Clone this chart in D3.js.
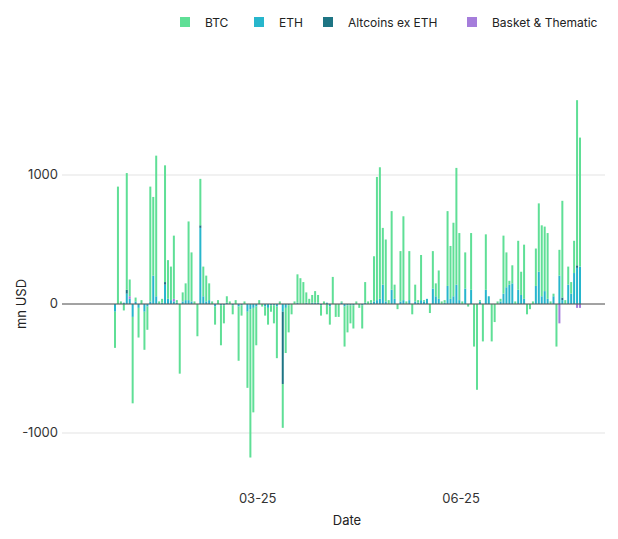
<!DOCTYPE html>
<html><head><meta charset="utf-8">
<script src="https://cdn.jsdelivr.net/npm/d3@7"></script>
<style>body{margin:0;background:#fff;font-family:Inter,"Noto Sans",sans-serif}</style>
</head><body><svg id="chart" width="618" height="539"></svg>
<script>
let seriesNames = ['BTC', 'ETH', 'Altcoins ex ETH', 'Basket & Thematic'];
let stackOrder = ['ETH', 'Altcoins ex ETH', 'Basket & Thematic', 'BTC'];
let colors = ['#5fdf96', '#27b6cc', '#1e7584', '#a57ddb'];

let btc = [-280,910,20,-50,905,130,-670,30,-230,30,
  -295,-180,890,610,1090,20,30,905,300,260,
  490,20,-540,70,130,610,380,20,-250,360,
  230,200,130,20,-140,30,-310,-140,50,20,
  -70,30,-420,-80,20,-590,-1150,-810,-300,30,
  -20,-70,-130,-50,-140,-400,20,-340,-350,-210,
  -80,20,220,200,170,80,40,60,90,60,
  -80,20,-80,-140,210,-100,-100,10,-310,-210,
  -140,-180,20,-30,-180,160,20,20,350,955,
  1020,440,480,30,610,110,-40,390,650,20,
  380,-80,130,20,350,10,0,-70,290,100,
  220,20,20,580,410,570,905,520,20,280,
  -20,440,-330,-665,10,-290,430,0,-290,-140,
  20,20,450,270,30,140,20,380,180,420,
  -80,-40,20,290,530,550,500,510,20,20,
  -330,200,750,30,140,90,250,1280,1000];
let eth = [-60,0,0,10,80,40,-100,20,-30,0,
  -60,-20,20,220,60,0,10,150,40,30,
  20,10,0,20,30,30,20,0,0,590,
  60,20,30,0,-20,0,-10,-10,10,0,
  -10,0,-20,-10,0,-60,-40,-30,-20,0,
  0,-20,-30,-10,-10,-20,0,-60,-30,-10,
  0,0,10,0,0,10,0,10,10,10,
  -10,0,10,-20,0,0,0,10,-20,-10,
  -10,-10,0,0,-10,10,0,10,20,30,
  40,150,20,0,110,40,0,20,30,0,
  30,0,20,10,30,20,40,0,120,60,
  40,0,10,140,40,60,150,30,0,120,
  0,110,0,0,20,0,110,60,0,0,
  0,20,80,130,150,160,0,110,70,40,
  0,0,0,140,250,60,100,40,0,60,
  0,220,30,0,150,80,240,280,290];
let alts = btc.map(() => 0);
alts[57] = -560; alts[4] = 30; alts[17] = 20; alts[29] = 20; alts[152] = 20; alts[157] = 20;
let basket = btc.map(() => 0);
basket[151] = -150; basket[5] = 20; basket[20] = 20; basket[157] = -30; basket[158] = -30;

let tickLabels = [{ label: '03-25', index: 48.5 }, { label: '06-25', index: 117.6 }];

let rows = btc.map((v, i) => ({ i: i, BTC: v, ETH: eth[i], 'Altcoins ex ETH': alts[i], 'Basket & Thematic': basket[i] }));
let stacked = d3.stack().keys(stackOrder).offset(d3.stackOffsetDiverging)(rows);

let svg = d3.select('#chart');
let x = d3.scaleLinear().domain([0, btc.length - 1]).range([115, 580]);
let y = d3.scaleLinear().domain([-1000, 1000]).range([433, 175]);

svg.append('g').selectAll('line').data([-1000, 0, 1000]).enter().append('line')
  .attr('x1', 62).attr('x2', 605).attr('y1', d => y(d)).attr('y2', d => y(d))
  .attr('stroke', '#e3e3e3');

svg.append('g').selectAll('text').data([-1000, 0, 1000]).enter().append('text')
  .attr('x', 58).attr('y', d => y(d) + 4).attr('text-anchor', 'end')
  .attr('font-size', 13).attr('fill', '#333').text(d => d);

let colorOf = d3.scaleOrdinal(seriesNames, colors);
stacked.forEach(s => {
  svg.append('g').attr('fill', colorOf(s.key)).selectAll('rect').data(s).enter().append('rect')
    .attr('x', d => x(d.data.i) - 1)
    .attr('width', 2)
    .attr('y', d => y(Math.max(d[0], d[1])))
    .attr('height', d => Math.abs(y(d[0]) - y(d[1])));
});

svg.append('line').attr('x1', 62).attr('x2', 605).attr('y1', y(0)).attr('y2', y(0))
  .attr('stroke', '#555').attr('stroke-width', 1);

svg.append('g').selectAll('text').data(tickLabels).enter().append('text')
  .attr('x', d => x(d.index)).attr('y', 503).attr('text-anchor', 'middle')
  .attr('font-size', 13).attr('fill', '#333').text(d => d.label);

svg.append('text').attr('x', 347).attr('y', 525).attr('text-anchor', 'middle')
  .attr('font-size', 13).attr('fill', '#222').text('Date');
svg.append('text').attr('transform', 'translate(26,304) rotate(-90)').attr('text-anchor', 'middle')
  .attr('font-size', 13).attr('fill', '#222').text('mn USD');

let legendX = [180, 254, 323, 467];
let legend = svg.append('g').selectAll('g').data(seriesNames).enter().append('g')
  .attr('transform', (d, i) => `translate(${legendX[i]},22)`);
legend.append('rect').attr('x', 0).attr('y', -5).attr('width', 10).attr('height', 10).attr('fill', d => colorOf(d));
legend.append('text').attr('x', 25).attr('y', 4.5).attr('font-size', 12).attr('fill', '#222').text(d => d);
</script></body></html>
